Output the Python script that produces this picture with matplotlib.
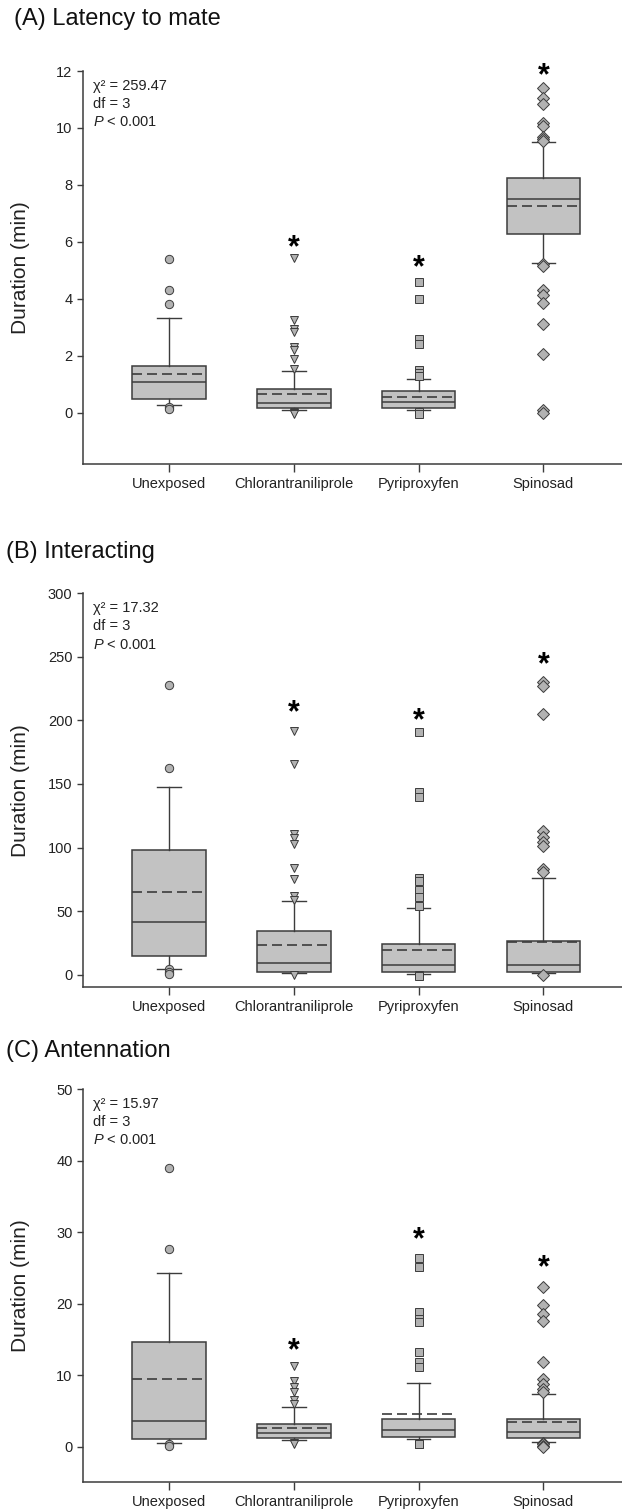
import matplotlib
matplotlib.use("Agg")
import matplotlib.pyplot as plt

plt.rcParams['font.family'] = ['Liberation Sans', 'DejaVu Sans']
plt.rcParams['mathtext.fontset'] = 'custom'
plt.rcParams['mathtext.rm'] = 'Liberation Sans'
plt.rcParams['mathtext.it'] = 'Liberation Sans:italic'

groups = ["Unexposed", "Chlorantraniliprole", "Pyriproxyfen", "Spinosad"]
flier_markers = ['o', 'v', 's', 'D']

# (A) latency to mate: q1, median, q3, mean, lower / upper whisker, outliers
lat_q1 = [0.48, 0.16, 0.16, 6.27]
lat_med = [1.09, 0.35, 0.37, 7.50]
lat_q3 = [1.64, 0.84, 0.76, 8.25]
lat_mean = [1.37, 0.65, 0.57, 7.26]
lat_wlo = [0.26, 0.10, 0.10, 5.27]
lat_whi = [3.33, 1.45, 1.18, 9.50]
lat_out = [
    [5.41, 4.30, 3.83, 0.20, 0.12],
    [5.43, 3.27, 2.95, 2.83, 2.31, 2.19, 1.90, 1.55, 0.03, 0.0, -0.03],
    [4.58, 4.00, 2.60, 2.40, 1.49, 1.39, 1.28, 0.02, -0.03],
    [11.42, 11.07, 10.83, 10.16, 10.08, 9.69, 9.62, 9.55, 5.22, 5.15,
     4.30, 4.15, 3.85, 3.10, 2.07, 0.08, 0.0],
]
lat_star = [None, 6.12, 5.39, 12.15]

# (B) interacting
int_q1 = [15.0, 2.4, 1.8, 2.1]
int_med = [41.0, 8.9, 7.9, 7.9]
int_q3 = [98.4, 34.4, 24.2, 26.2]
int_mean = [64.6, 23.6, 19.7, 25.4]
int_wlo = [4.5, 1.0, 0.5, 1.0]
int_whi = [148.0, 57.7, 52.2, 75.8]
int_out = [
    [228.0, 162.5, 4.0, 1.8, 0.5],
    [192.0, 166.0, 111.0, 107.6, 102.4, 84.0, 75.6, 62.2, 59.0, 0.0],
    [191.0, 143.6, 139.6, 75.8, 74.0, 66.7, 61.4, 54.3, 0.0, -1.0],
    [230.2, 226.8, 205.3, 112.6, 108.1, 104.2, 100.8, 82.7, 80.6, 0.0],
]
int_star = [None, 213, 207, 251]

# (C) antennation
ant_q1 = [1.1, 1.25, 1.3, 1.2]
ant_med = [3.6, 1.9, 2.3, 2.0]
ant_q3 = [14.6, 3.1, 3.8, 3.8]
ant_mean = [9.5, 2.6, 4.6, 3.4]
ant_wlo = [0.5, 0.9, 1.0, 0.7]
ant_whi = [24.3, 5.5, 8.9, 7.4]
ant_out = [
    [39.0, 27.6, 0.3, 0.1],
    [11.3, 9.2, 8.3, 7.7, 6.5, 5.9, 0.5, 0.3],
    [26.4, 25.1, 18.8, 17.9, 17.4, 13.2, 11.9, 11.1, 0.4, 0.3],
    [22.3, 19.8, 18.5, 17.6, 11.9, 9.5, 8.7, 8.1, 7.7, 0.5, 0.3, 0.1, 0.0],
]
ant_star = [None, 14.6, 30.2, 26.2]

panels = [
    dict(title="(A) Latency to mate", chi="259.47",
         q1=lat_q1, med=lat_med, q3=lat_q3, mean=lat_mean, wlo=lat_wlo, whi=lat_whi,
         out=lat_out, star=lat_star, ylim=(-1.8, 12), yticks=[0, 2, 4, 6, 8, 10, 12],
         rect=[0.1334, 0.6929, 0.8666, 0.2601], title_xy=(0.022, 0.9875)),
    dict(title="(B) Interacting", chi="17.32",
         q1=int_q1, med=int_med, q3=int_q3, mean=int_mean, wlo=int_wlo, whi=int_whi,
         out=int_out, star=int_star, ylim=(-10, 300), yticks=[0, 50, 100, 150, 200, 250, 300],
         rect=[0.1334, 0.3466, 0.8666, 0.2607], title_xy=(0.010, 0.6347)),
    dict(title="(C) Antennation", chi="15.97",
         q1=ant_q1, med=ant_med, q3=ant_q3, mean=ant_mean, wlo=ant_wlo, whi=ant_whi,
         out=ant_out, star=ant_star, ylim=(-5, 50), yticks=[0, 10, 20, 30, 40, 50],
         rect=[0.1334, 0.0190, 0.8666, 0.2601], title_xy=(0.010, 0.3045)),
]

edge = '#3c3c3c'
box_fill = '#c2c2c2'
marker_fill = '#b2b2b2'
msize = {'o': 6.0, 'v': 6.0, 's': 5.6, 'D': 5.8}

fig = plt.figure(figsize=(6.22, 15.11), dpi=100)
fig.patch.set_facecolor('white')

for p in panels:
    ax = fig.add_axes(p['rect'])
    for i in range(len(groups)):
        stats = [dict(q1=p['q1'][i], med=p['med'][i], q3=p['q3'][i], mean=p['mean'][i],
                      whislo=p['wlo'][i], whishi=p['whi'][i], fliers=p['out'][i])]
        mk = flier_markers[i]
        ax.bxp(stats, positions=[i + 1], widths=0.59, capwidths=0.19,
               patch_artist=True, showmeans=True, meanline=True,
               boxprops=dict(facecolor=box_fill, edgecolor=edge, linewidth=1.1),
               medianprops=dict(color=edge, linewidth=1.1),
               meanprops=dict(color=edge, linewidth=1.2, linestyle=(0, (6, 3))),
               whiskerprops=dict(color=edge, linewidth=1.0),
               capprops=dict(color=edge, linewidth=1.0),
               flierprops=dict(marker=mk, markerfacecolor=marker_fill,
                               markeredgecolor=edge, markeredgewidth=0.7,
                               markersize=msize[mk]))
        # significance marker above the group
        if p['star'][i] is not None:
            ax.annotate("*", (i + 1, p['star'][i]), xytext=(0, -12.5),
                        textcoords='offset points', ha='center', va='baseline',
                        fontsize=22, fontweight='bold', annotation_clip=False)

    ax.set_xlim(0.31, 4.63)
    ax.set_ylim(*p['ylim'])
    ax.set_yticks(p['yticks'])
    ax.set_xticks(range(1, len(groups) + 1))
    ax.set_xticklabels(groups)
    ax.tick_params(axis='both', colors=edge, labelcolor='#222222', labelsize=10.5,
                   length=4, width=1)
    ax.tick_params(axis='x', length=6, pad=3)
    for side in ['top', 'right']:
        ax.spines[side].set_visible(False)
    for side in ['left', 'bottom']:
        ax.spines[side].set_color(edge)
        ax.spines[side].set_linewidth(1.1)
    ax.set_ylabel("Duration (min)", fontsize=15, color='#222222')
    ax.yaxis.set_label_coords(-0.098, 0.5)

    ax.text(0.019, 0.962, "χ² = " + p['chi'], transform=ax.transAxes,
            fontsize=10.5, color='#222222', va='center')
    ax.text(0.019, 0.917, "df = 3", transform=ax.transAxes,
            fontsize=10.5, color='#222222', va='center')
    ax.text(0.019, 0.870, "$P$ < 0.001", transform=ax.transAxes,
            fontsize=10.5, color='#222222', va='center')

    fig.text(p['title_xy'][0], p['title_xy'][1], p['title'], fontsize=17,
             color='#111111', va='center')

fig.savefig("out.png", dpi=100, facecolor='white')
